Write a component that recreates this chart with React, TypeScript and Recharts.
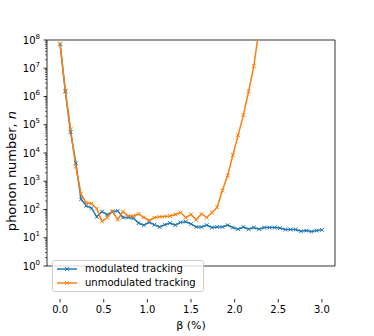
import React from 'react';
import { LineChart, Line, XAxis, YAxis, Legend, ReferenceArea } from 'recharts';

const betaValues = [
  0.0, 0.06, 0.12, 0.18, 0.24, 0.3, 0.36, 0.42, 0.48, 0.54,
  0.6, 0.66, 0.72, 0.78, 0.84, 0.9, 0.96, 1.02, 1.08, 1.14,
  1.2, 1.26, 1.32, 1.38, 1.44, 1.5, 1.56, 1.62, 1.68, 1.74,
  1.8, 1.86, 1.92, 1.98, 2.04, 2.1, 2.16, 2.22, 2.28, 2.34,
  2.4, 2.46, 2.52, 2.58, 2.64, 2.7, 2.76, 2.82, 2.88, 2.94, 3.0,
];

const modulated = [
  7e7, 1.5e6, 5.5e4, 4.5e3, 230, 135, 112, 55, 84, 66,
  84, 90, 52, 52, 49, 33, 28, 35, 29, 24,
  29, 33, 28, 35, 37, 31, 24, 24, 28, 23,
  24, 24, 28, 23, 20, 24, 20, 23, 20, 23,
  23, 23, 22, 19.5, 19.5, 19.5, 17, 18, 16.5, 18, 19,
];

const unmodulated = [
  7.5e7, 1.6e6, 7e4, 3.3e3, 350, 170, 163, 107, 38, 52,
  88, 44, 84, 59, 59, 70, 52, 41, 51, 55,
  57, 59, 67, 78, 52, 67, 43, 70, 52, 78,
  120, 470, 1600, 8500, 4.3e4, 2.2e5, 1.5e6, 1.2e7, 2.5e8,
];

const xTicks = [0, 0.5, 1, 1.5, 2, 2.5, 3];
const xTickLabels = ['0.0', '0.5', '1.0', '1.5', '2.0', '2.5', '3.0'];
const yMajorExponents = [0, 1, 2, 3, 4, 5, 6, 7, 8];
const yMinorMultipliers = [2, 3, 4, 5, 6, 7, 8, 9];

const seriesNames = ['modulated tracking', 'unmodulated tracking'];
const BLUE = '#1f77b4';
const ORANGE = '#ff7f0e';
const FONT = 'DejaVu Sans';

const data = betaValues.map((b, i) => ({
  beta: b,
  mod: modulated[i],
  unmod: i < unmodulated.length ? unmodulated[i] : null,
}));

const yTicks: number[] = [];
yMajorExponents.forEach((e) => {
  yTicks.push(Math.pow(10, e));
  if (e < 8) yMinorMultipliers.forEach((m) => yTicks.push(m * Math.pow(10, e)));
});

const PLOT_LEFT = 47;
const PLOT_BOTTOM = 299;

const XDot = (props: any) => {
  const { cx, cy, stroke } = props;
  if (cx == null || cy == null || isNaN(cx) || isNaN(cy)) return <g />;
  const s = 1.9;
  return (
    <g>
      <line x1={cx - s} y1={cy - s} x2={cx + s} y2={cy + s} stroke={stroke} strokeWidth={1} />
      <line x1={cx - s} y1={cy + s} x2={cx + s} y2={cy - s} stroke={stroke} strokeWidth={1} />
    </g>
  );
};

const YTick = (props: any) => {
  const { y, payload } = props;
  const v = payload.value;
  const exp = Math.round(Math.log10(v));
  const major = Math.abs(v - Math.pow(10, exp)) < 1e-6 * v;
  if (!major) {
    return (
      <line x1={PLOT_LEFT - 2} x2={PLOT_LEFT} y1={y} y2={y} stroke="#000" strokeWidth={0.6} />
    );
  }
  return (
    <g>
      <line x1={PLOT_LEFT - 3.5} x2={PLOT_LEFT} y1={y} y2={y} stroke="#000" strokeWidth={0.8} />
      <text x={PLOT_LEFT - 7} y={y + 3.5} textAnchor="end" fontSize={10} fontFamily={FONT} fill="#000">
        10
        <tspan dy={-5} fontSize={7}>{String(exp)}</tspan>
      </text>
    </g>
  );
};

const XTick = (props: any) => {
  const { x, payload } = props;
  const idx = xTicks.indexOf(payload.value);
  const label = idx >= 0 ? xTickLabels[idx] : String(payload.value);
  return (
    <g>
      <line x1={x} x2={x} y1={PLOT_BOTTOM} y2={PLOT_BOTTOM + 3.5} stroke="#000" strokeWidth={0.8} />
      <text x={x} y={PLOT_BOTTOM + 14} textAnchor="middle" fontSize={10} fontFamily={FONT} fill="#000">
        {label}
      </text>
    </g>
  );
};

const LegendIcon = ({ color }: { color: string }) => (
  <svg width={20} height={14} style={{ display: 'block' }}>
    <line x1={0} y1={7} x2={20} y2={7} stroke={color} strokeWidth={1.5} />
    <line x1={8.1} y1={5.1} x2={11.9} y2={8.9} stroke={color} strokeWidth={1} />
    <line x1={8.1} y1={8.9} x2={11.9} y2={5.1} stroke={color} strokeWidth={1} />
  </svg>
);

const LegendContent = () => (
  <div
    style={{
      border: '1px solid #cccccc',
      borderRadius: 3,
      background: 'rgba(255,255,255,0.8)',
      padding: '1px 5px 1px 4px',
      fontFamily: FONT,
      fontSize: 10,
      color: '#000',
      boxSizing: 'border-box',
      width: 152,
    }}
  >
    {[BLUE, ORANGE].map((c, i) => (
      <div key={i} style={{ display: 'flex', alignItems: 'center', height: 14, lineHeight: '14px', whiteSpace: 'nowrap' }}>
        <LegendIcon color={c} />
        <span style={{ marginLeft: 8 }}>{seriesNames[i]}</span>
      </div>
    ))}
  </div>
);

export default function App() {
  return (
    <div style={{ position: 'absolute', left: 0, top: 0, width: 374, height: 336, background: '#fff' }}>
      <LineChart
        width={374}
        height={336}
        data={data}
        margin={{ top: 40, right: 39, bottom: 0, left: 0 }}
        style={{ fontFamily: FONT }}
      >
        <ReferenceArea
          x1={-0.15}
          x2={3.15}
          y1={1}
          y2={1e8}
          fill="none"
          stroke="#000"
          strokeWidth={0.8}
          fillOpacity={0}
          ifOverflow="visible"
        />
        <XAxis
          dataKey="beta"
          type="number"
          domain={[-0.15, 3.15]}
          allowDataOverflow
          ticks={xTicks}
          interval={0}
          height={37}
          axisLine={false}
          tickLine={false}
          tick={<XTick />}
          label={(p: any) => (
            <text x={191} y={329} textAnchor="middle" fontSize={11} fontFamily={FONT} fill="#000">
              β (%)
            </text>
          )}
        />
        <YAxis
          type="number"
          scale="log"
          domain={[1, 1e8]}
          allowDataOverflow
          ticks={yTicks}
          interval={0}
          width={47}
          axisLine={false}
          tickLine={false}
          tick={<YTick />}
          label={(p: any) => (
            <text
              x={16}
              y={171}
              textAnchor="middle"
              fontSize={13}
              fontFamily={FONT}
              fill="#000"
              transform="rotate(-90 16 171)"
            >
              phonon number, <tspan fontStyle="italic">n</tspan>
            </text>
          )}
        />
        <Legend
          content={<LegendContent />}
          wrapperStyle={{ position: 'absolute', left: 52, top: 260, width: 152, height: 33, bottom: 'auto' }}
        />
        <Line
          dataKey="mod"
          name={seriesNames[0]}
          stroke={BLUE}
          strokeWidth={1.5}
          dot={<XDot />}
          activeDot={false}
          isAnimationActive={false}
        />
        <Line
          dataKey="unmod"
          name={seriesNames[1]}
          stroke={ORANGE}
          strokeWidth={1.5}
          dot={<XDot />}
          activeDot={false}
          isAnimationActive={false}
        />
      </LineChart>
    </div>
  );
}
